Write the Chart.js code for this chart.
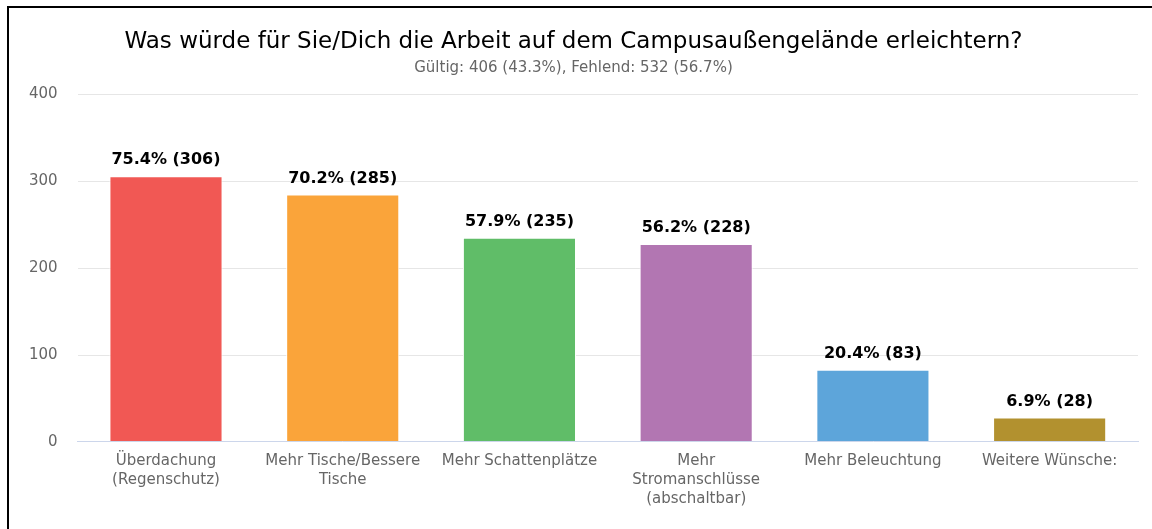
<!DOCTYPE html>
<html>
<head>
<meta charset="utf-8">
<title>Campusaußengelände</title>
<style>
*{padding:0;margin:0;box-sizing:border-box}
html,body{width:1152px;height:529px;overflow:hidden;background:#fff}
.frame{position:absolute;left:7px;top:6px;width:1160px;height:540px;border:2px solid #000}
.wrapper{position:absolute;left:9px;top:8px;width:1146px;height:521px}
</style>
</head>
<body>
<div class="frame"></div>
<div class="wrapper"><canvas id="myChart"></canvas></div>
<script src="https://cdn.jsdelivr.net/npm/chart.js"></script>
<script>
const categories = [
  ['Überdachung', '(Regenschutz)'],
  ['Mehr Tische/Bessere', 'Tische'],
  'Mehr Schattenplätze',
  ['Mehr', 'Stromanschlüsse', '(abschaltbar)'],
  'Mehr Beleuchtung',
  'Weitere Wünsche:',
];
const counts = [306, 285, 235, 228, 83, 28];
const percents = [75.4, 70.2, 57.9, 56.2, 20.4, 6.9];
const barColors = ['#F15854', '#FAA43A', '#60BD68', '#B276B2', '#5DA5DA', '#B2912F'];
const yTicks = [0, 100, 200, 300, 400];

const font = "'DejaVu Sans', sans-serif";
Chart.defaults.font.family = font;

// value labels above bars
const barLabels = {
  id: 'barLabels',
  afterDatasetsDraw(chart) {
    const ctx = chart.ctx;
    const meta = chart.getDatasetMeta(0);
    ctx.save();
    ctx.font = `bold 16px ${font}`;
    ctx.fillStyle = '#000';
    ctx.textAlign = 'center';
    ctx.textBaseline = 'middle';
    meta.data.forEach((bar, i) => {
      ctx.fillText(`${percents[i]}% (${counts[i]})`, bar.x, bar.y - 16);
    });
    ctx.restore();
  },
};

const ctx = document.getElementById('myChart').getContext('2d');
new Chart(ctx, {
  type: 'bar',
  data: {
    labels: categories,
    datasets: [{
      data: counts,
      backgroundColor: barColors,
      borderColor: '#ffffff',
      borderWidth: 1,
      categoryPercentage: 0.8,
      barPercentage: 0.8,
    }],
  },
  options: {
    responsive: true,
    maintainAspectRatio: false,
    animation: false,
    layout: { padding: { left: 0, right: 17, top: 0, bottom: 10 } },
    plugins: {
      legend: { display: false },
      tooltip: { enabled: false },
      title: {
        display: true,
        text: 'Was würde für Sie/Dich die Arbeit auf dem Campusaußengelände erleichtern?',
        color: '#000',
        font: { size: 23, weight: 'normal' },
        padding: { top: 20, bottom: 4 },
      },
      subtitle: {
        display: true,
        text: 'Gültig: 406 (43.3%), Fehlend: 532 (56.7%)',
        color: '#666',
        font: { size: 15 },
        padding: { top: 0, bottom: 17 },
      },
    },
    scales: {
      y: {
        min: 0,
        max: 400,
        afterBuildTicks: (axis) => { axis.ticks = yTicks.map(v => ({ value: v })); },
        grid: {
          color: (c) => (c.tick && c.tick.value === 0 ? 'rgba(0,0,0,0)' : '#e6e6e6'),
          drawTicks: false,
        },
        border: { display: false },
        ticks: { color: '#666', font: { size: 15 }, padding: 20 },
      },
      x: {
        grid: { display: false, drawTicks: false },
        border: { color: '#ccd6eb', z: 1 },
        ticks: { color: '#666', font: { size: 15, lineHeight: 1.27 }, padding: 10, maxRotation: 0, autoSkip: false },
      },
    },
  },
  plugins: [barLabels],
});
</script>
</body>
</html>
